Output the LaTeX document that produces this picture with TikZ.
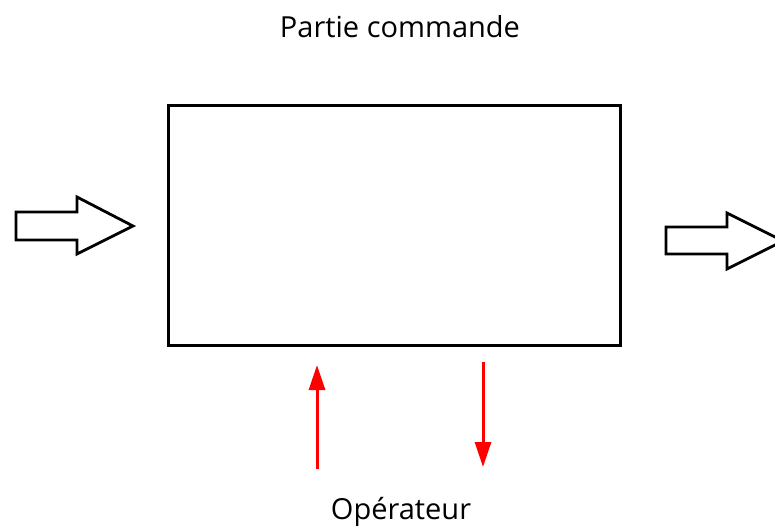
\documentclass[tikz,border=0pt]{standalone}
\usepackage{fontspec}
\setmainfont{Open Sans}
\usetikzlibrary{arrows.meta}
\begin{document}
\begin{tikzpicture}[x=1pt,y=-1pt,
  blk/.style={draw=black,line width=2.6pt},
  fatarrow/.style={draw=black,line width=2.8pt,line join=miter,fill=white},
  redarrow/.style={draw=red,line width=3pt,-{Triangle[length=25pt,width=16pt]}},
  lbl/.style={font=\fontsize{29}{34}\selectfont,inner sep=0pt}]
\useasboundingbox (0,0) rectangle (775,531);
\node[blk,minimum width=452pt,minimum height=240pt,inner sep=0pt,anchor=north west] (pc) at (167,104) {};
\node[lbl] (t1) at (400,27) {Partie commande};
\node[lbl] (t2) at (401,512) {Opérateur};
\draw[fatarrow] (16,212) -- (77,212) -- (77,197) -- (133,226) -- (77,254) -- (77,240) -- (16,240) -- cycle;
\draw[fatarrow] (666,227) -- (727,227) -- (727,213) -- (783,241) -- (727,269) -- (727,254) -- (666,254) -- cycle;
\coordinate (a1s) at (317,469);
\coordinate (a1e) at (317,365);
\coordinate (a2s) at (483,362);
\coordinate (a2e) at (483,467);
\draw[redarrow] (a1s) -- (a1e);
\draw[redarrow] (a2s) -- (a2e);
\end{tikzpicture}
\end{document}
